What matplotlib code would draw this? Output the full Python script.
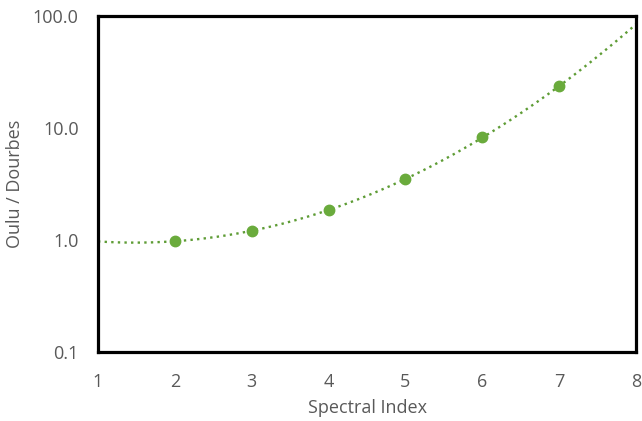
import numpy as np
import matplotlib.pyplot as plt
from matplotlib.ticker import FixedLocator, FixedFormatter

GREEN = "#6aab3c"
TREND = "#5e9c35"
GRAY = "#595959"

spectral_index = [2, 3, 4, 5, 6, 7]
ratio = [0.98, 1.20, 1.85, 3.5, 8.3, 23.5]

x_ticks = [1, 2, 3, 4, 5, 6, 7, 8]
y_ticks = [0.1, 1.0, 10.0, 100.0]
y_labels = ["0.1", "1.0", "10.0", "100.0"]

plt.rcParams["font.family"] = ["Open Sans", "DejaVu Sans"]
plt.rcParams["xtick.major.pad"] = 15
plt.rcParams["ytick.major.pad"] = 14
plt.rcParams["xtick.major.size"] = 0
plt.rcParams["ytick.major.size"] = 0

fig = plt.figure(figsize=(6.42, 4.21), dpi=100)
ax = fig.add_axes([98 / 642, 1 - 352 / 421, 538 / 642, 336 / 421])

# trendline: quadratic fit of the points on the log axis, extended to 1..8
coef = np.polyfit(spectral_index, np.log10(ratio), 2)
xt = np.linspace(1, 8, 200)
ax.plot(xt, 10 ** np.polyval(coef, xt), ls=(0, (1, 1.8)), color=TREND, lw=1.7, zorder=2)

ax.plot(spectral_index, ratio, "o", color=GREEN, ms=7.5, zorder=3)

ax.set_yscale("log")
ax.set_xlim(1, 8)
ax.set_ylim(0.1, 100)
ax.set_xticks(x_ticks)
ax.yaxis.set_major_locator(FixedLocator(y_ticks))
ax.yaxis.set_major_formatter(FixedFormatter(y_labels))
ax.yaxis.set_minor_locator(FixedLocator([]))
ax.tick_params(labelsize=13, colors=GRAY)
for s in ax.spines.values():
    s.set_linewidth(2.3)
    s.set_color("black")

ax.set_xlabel("Spectral Index", fontsize=13, color=GRAY, labelpad=6)
ax.set_ylabel("Oulu / Dourbes", fontsize=13, color=GRAY, labelpad=6)

fig.savefig("out.png", dpi=100)
